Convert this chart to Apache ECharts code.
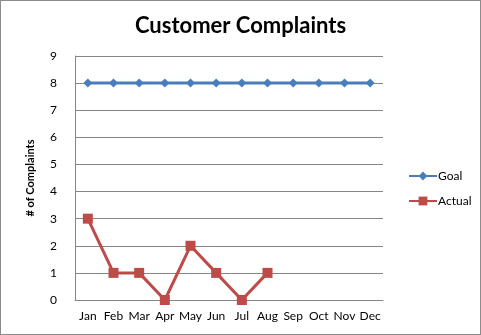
<!DOCTYPE html>
<html>
<head>
<meta charset="utf-8">
<script src="https://cdn.jsdelivr.net/npm/echarts@6/dist/echarts.min.js"></script>
<style>
  html, body { margin: 0; padding: 0; background: #fff; }
  #chart { width: 479px; height: 333px; border: 1px solid #8c8c8c; }
</style>
</head>
<body>
<div id="chart"></div>
<script>
// Monthly complaint counts against the target
const months = ['Jan', 'Feb', 'Mar', 'Apr', 'May', 'Jun', 'Jul', 'Aug', 'Sep', 'Oct', 'Nov', 'Dec'];
const goal = [8, 8, 8, 8, 8, 8, 8, 8, 8, 8, 8, 8];
const actual = [3, 1, 1, 0, 2, 1, 0, 1];

const font = 'Lato, "Open Sans", sans-serif';
const chart = echarts.init(document.getElementById('chart'), null, { renderer: 'canvas' });

chart.setOption({
  animation: false,
  textStyle: { fontFamily: font },
  title: {
    text: 'Customer Complaints',
    left: 'center',
    top: 9,
    textStyle: { fontFamily: font, fontSize: 22, fontWeight: 'bold', color: '#000' }
  },
  legend: {
    orient: 'vertical',
    left: 402,
    top: 164,
    itemWidth: 28,
    itemHeight: 11,
    itemGap: 13,
    textStyle: { fontFamily: font, fontSize: 12, color: '#000', padding: [0, 0, 0, -4] },
    data: ['Goal', 'Actual']
  },
  grid: { left: 74, right: 97, top: 55, bottom: 34, containLabel: false },
  xAxis: {
    type: 'category',
    data: months,
    boundaryGap: true,
    axisLine: { lineStyle: { color: '#868686', width: 1 } },
    axisTick: { show: false },
    axisLabel: { color: '#000', fontSize: 12, fontFamily: font, margin: 10, interval: 0 }
  },
  yAxis: {
    type: 'value',
    min: 0,
    max: 9,
    interval: 1,
    name: '# of Complaints',
    nameLocation: 'middle',
    nameGap: 39,
    nameRotate: 90,
    nameTextStyle: { fontFamily: font, fontSize: 11, fontWeight: 'bold', color: '#000' },
    axisLine: { show: true, lineStyle: { color: '#868686', width: 1 } },
    axisTick: { show: false },
    axisLabel: { color: '#000', fontSize: 12, fontFamily: font, margin: 18 },
    splitLine: { lineStyle: { color: '#868686', width: 1 } }
  },
  series: [
    {
      name: 'Goal',
      type: 'line',
      data: goal,
      symbol: 'diamond',
      symbolSize: 9,
      color: '#4A7EBB',
      lineStyle: { width: 3, color: '#4A7EBB' },
      itemStyle: { color: '#4A7EBB' }
    },
    {
      name: 'Actual',
      type: 'line',
      data: actual,
      symbol: 'rect',
      symbolSize: 10,
      color: '#BE4B48',
      lineStyle: { width: 3, color: '#BE4B48' },
      itemStyle: { color: '#BE4B48' }
    }
  ]
});
</script>
</body>
</html>
